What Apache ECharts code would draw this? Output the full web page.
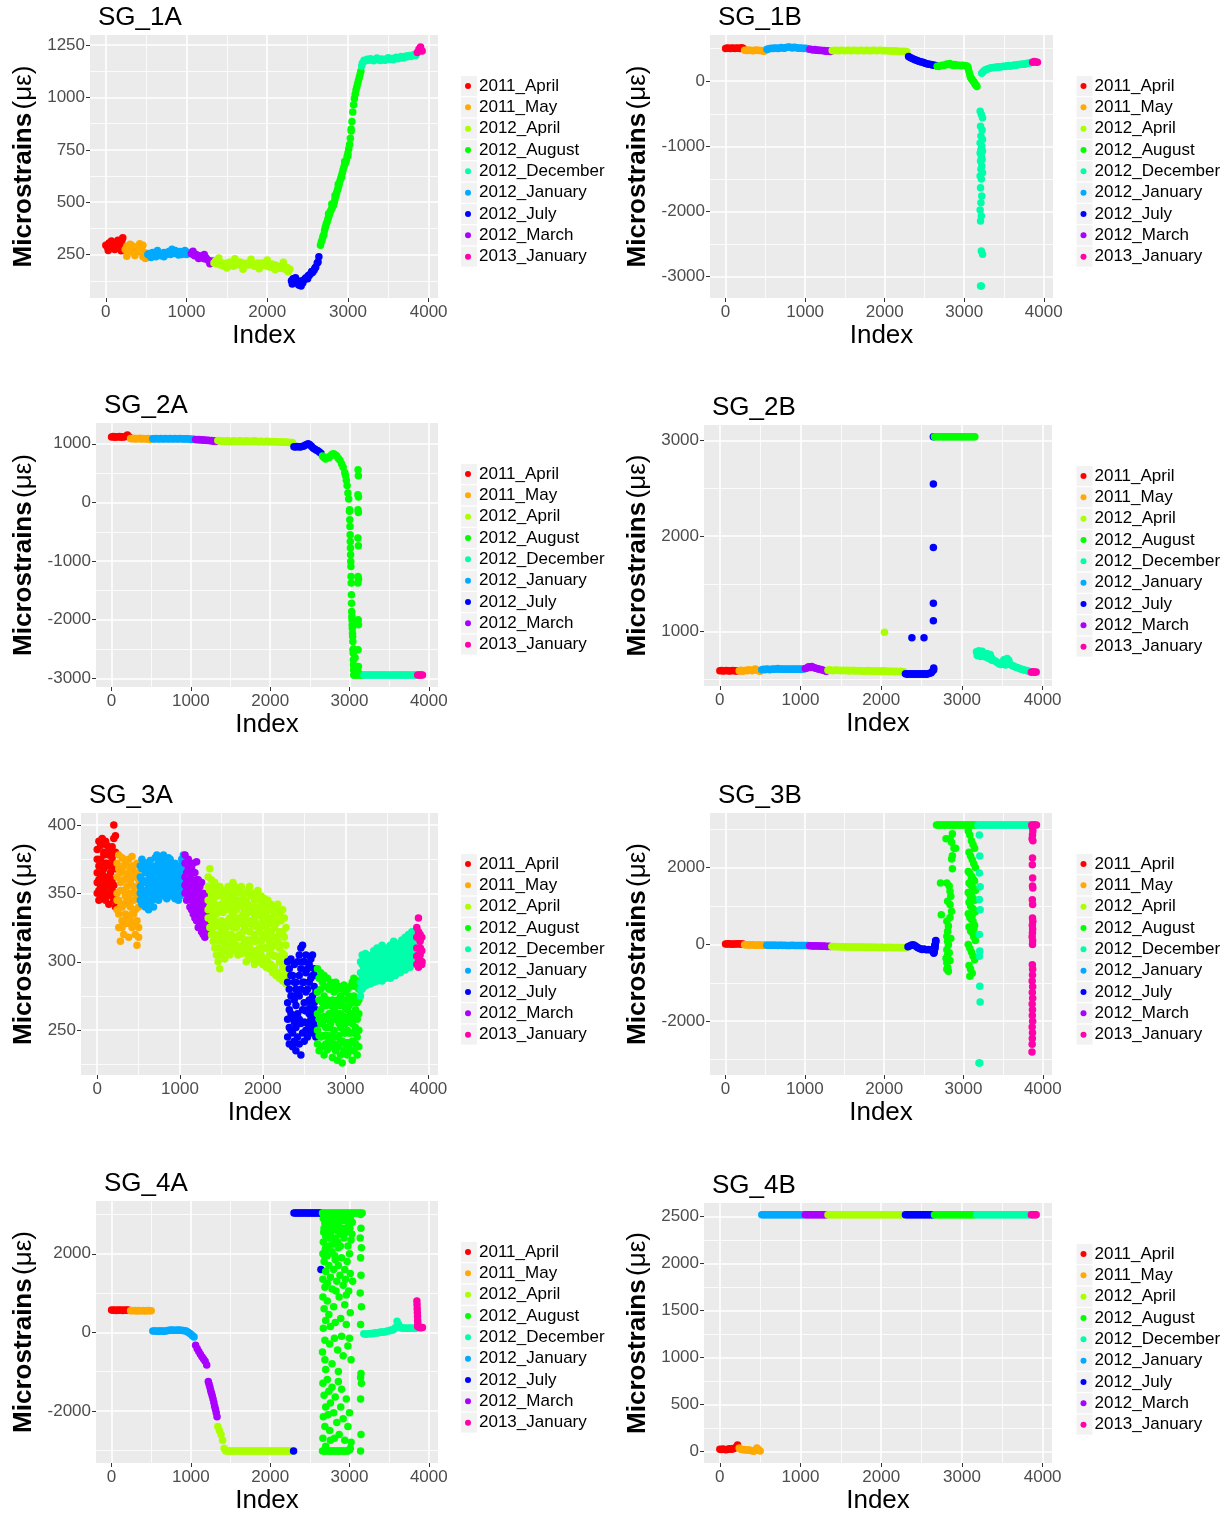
<!DOCTYPE html>
<html>
<head>
<meta charset="utf-8">
<script src="https://cdn.jsdelivr.net/npm/echarts@6/dist/echarts.min.js"></script>
<style>
  html, body { margin: 0; padding: 0; background: #ffffff; }
  #chart { width: 1231px; height: 1515px; }
</style>
</head>
<body>
<div id="chart"></div>
<script>
const FONT = '"Liberation Sans", Arial, Helvetica, sans-serif';

// Legend order (alphabetical factor levels) and their colours
const MONTHS = ['2011_April', '2011_May', '2012_April', '2012_August', '2012_December',
                '2012_January', '2012_July', '2012_March', '2013_January'];
const MONTH_COLORS = ['#FF0000', '#FFAA00', '#AAFF00', '#00FF00', '#00FFAA',
                      '#00AAFF', '#0000FF', '#AA00FF', '#FF00AA'];

// Recording campaigns in time order and the first Index of each one
const MONTH_ORDER = ['2011_April', '2011_May', '2012_January', '2012_March', '2012_April',
                     '2012_July', '2012_August', '2012_December', '2013_January'];
const MONTH_START = [0, 240, 505, 1045, 1335, 2285, 2655, 3165, 3845];

// Main traces hold one reading every INDEX_STEP samples, Index 0 .. 3920
const INDEX_STEP = 20;
const X_TICKS = [0, 1000, 2000, 3000, 4000];

// ---------------- SG_1A ----------------
const SG_1A = [
  295, 285, 305, 290, 300, 280, 295, 300, 285, 305, 320, 290,
  275, 290, 265, 280, 295, 260, 285, 270, 290, 265, 280, 295, 260, 250,
  250, 255, 245, 260, 250, 240, 255, 250, 245, 255, 260, 250, 255, 265, 250, 260, 255, 270, 260, 255, 265, 250, 260, 255, 250, 260, 255,
  255, 250, 245, 250, 240, 245, 235, 240, 230, 235, 225, 220, 215, 220,
  210, 220, 205, 215, 200, 210, 195, 205, 210, 200, 215, 205, 195, 210, 200, 205, 215, 200, 210, 195,
  205, 210, 200, 215, 205, 195, 200, 210, 205, 195, 210, 200, 205, 195, 200, 190, 205, 195, 200, 190,
  195, 185, 195, 190, 180, 190, 185, 180,
  125, 135, 120, 130, 118, 105, 100, 115, 130, 140, 135, 150, 160, 165, 175, 190, 210, 240,
  295, 320, 345, 380, 405, 430, 455, 470, 485, 515, 545, 570, 600, 625, 655, 680, 700, 735, 775, 840, 930, 995, 1035, 1065, 1095, 1125,
  1165, 1178, 1175, 1182, 1178, 1185, 1180, 1175, 1182, 1188, 1180, 1176, 1184, 1180, 1178, 1185, 1190, 1182, 1186, 1180,
  1188, 1192, 1185, 1190, 1195, 1188, 1192, 1198, 1194, 1200, 1196, 1202, 1205, 1200,
  1215, 1230, 1241, 1222
];
const SG_1A_EXTRA = [
  [30, 270], [70, 315], [110, 275], [150, 318], [190, 268], [210, 330],
  [260, 242], [300, 300], [360, 246], [420, 302], [460, 240], [490, 232],
  [560, 236], [640, 270], [720, 240], [820, 276], [900, 248], [980, 270],
  [1080, 266], [1150, 232], [1220, 250], [1290, 206],
  [1400, 234], [1500, 186], [1600, 230], [1700, 180], [1800, 228], [1900, 182], [2000, 224], [2100, 178], [2200, 214], [2260, 168],
  [2310, 110], [2350, 140], [2390, 105], [2430, 125], [2470, 135], [2510, 150], [2550, 170], [2590, 185], [2630, 215],
  [2670, 310], [2690, 335], [2710, 365], [2730, 395], [2750, 418], [2770, 443], [2790, 462], [2810, 478], [2830, 500],
  [2850, 530], [2870, 558], [2890, 585], [2910, 612], [2930, 640], [2950, 668], [2970, 690], [2990, 718],
  [2760, 445], [2800, 492], [2840, 532], [2880, 586], [2920, 618], [2960, 694], [3000, 722], [3040, 850],
  [3010, 755], [3030, 805], [3050, 885], [3070, 965], [3090, 1015], [3110, 1050], [3130, 1080], [3150, 1110], [3170, 1150]
];
const SG_1A_TICKS = [250, 500, 750, 1000, 1250];

// ---------------- SG_1B ----------------
const SG_1B = [
  500, 510, 505, 500, 510, 505, 500, 510, 505, 500, 512, 505,
  475, 470, 480, 470, 475, 465, 470, 480, 470, 475, 465, 470, 460, 465,
  490, 495, 500, 505, 500, 510, 505, 500, 510, 515, 510, 505, 515, 520, 525, 515, 510, 520, 515, 510, 505, 510, 505, 500, 505, 500, 495,
  490, 485, 480, 485, 475, 480, 470, 475, 465, 470, 460, 465, 460, 455,
  470, 465, 475, 470, 465, 470, 475, 470, 465, 470, 475, 470, 465, 470, 475, 470, 465, 470, 475, 470,
  465, 470, 475, 470, 465, 470, 475, 470, 465, 470, 475, 470, 465, 470, 465, 470, 465, 460, 465, 460,
  465, 460, 455, 460, 455, 460, 455, 450,
  380, 365, 350, 340, 330, 320, 310, 300, 295, 290, 280, 272, 265, 260, 255, 250, 245, 240,
  230, 225, 235, 245, 240, 250, 265, 255, 270, 250, 245, 255, 250, 240, 245, 235, 245, 240, 235, 230, 150, 60, 20, -10, -50, -80,
  null, null, 120, 150, 170, 180, 190, 200, 205, 210, 210, 215, 220, 215, 220, 225, 230, 225, 235, 240,
  230, 240, 245, 250, 245, 255, 255, 260, 265, 260, 270, 275, 280, 285,
  290, 300, 295, 290
];
const SG_1B_EXTRA = [
  [3050, 200], [3070, 100], [3090, 40], [3110, 5], [3130, -30], [3150, -65],
  [3200, -460], [3215, -511], [3230, -560], [3205, -690], [3225, -750], [3210, -843], [3230, -894], [3200, -950],
  [3220, -996], [3210, -1050], [3230, -1073], [3200, -1100], [3215, -1150], [3225, -1200], [3205, -1226], [3220, -1303],
  [3210, -1350], [3230, -1405], [3200, -1456], [3215, -1500], [3205, -1635], [3220, -1763], [3210, -1865], [3200, -1977],
  [3215, -2070], [3205, -2146], [3215, -2606], [3230, -2657], [3205, -3143], [3215, -3143]
];
const SG_1B_TICKS = [-3000, -2000, -1000, 0];

// ---------------- SG_2A ----------------
const SG_2A = [
  1115, 1125, 1110, 1120, 1115, 1125, 1110, 1120, 1115, 1130, 1150, 1120,
  1090, 1085, 1095, 1080, 1090, 1085, 1095, 1080, 1090, 1085, 1080, 1090, 1075, 1085,
  1085, 1080, 1090, 1085, 1080, 1090, 1085, 1080, 1090, 1085, 1080, 1090, 1085, 1080, 1090, 1085, 1080, 1090, 1085, 1080,
  1085, 1080, 1085, 1080, 1075, 1080, 1075,
  1075, 1070, 1075, 1065, 1070, 1060, 1065, 1055, 1060, 1050, 1055, 1045, 1050, 1045,
  1055, 1050, 1045, 1050, 1040, 1045, 1050, 1040, 1045, 1040, 1050, 1045, 1040, 1045, 1050, 1040, 1045, 1040, 1050, 1045,
  1040, 1045, 1040, 1050, 1045, 1040, 1035, 1045, 1040, 1035, 1040, 1045, 1035, 1040, 1035, 1040, 1030, 1035, 1030, 1035,
  1025, 1030, 1025, 1030, 1020, 1025, 1015, 1020,
  950, 945, 955, 950, 945, 955, 960, 975, 990, 1000, 985, 960, 930, 910, 895, 880, 860, 840,
  790, 760, 740, 770, 760, 790, 820, 830, 815, 790, 750, 720, 660, 600, 510, 380, 160, -150, null, null,
  -2943, -2943, -2943, -2943, -2943, -2943,
  -2943, -2943, -2943, -2943, -2943, -2943, -2943, -2943, -2943, -2943, -2943, -2943, -2943, -2943, -2943, -2943, -2943,
  -2943, -2943, -2943, -2943, -2943, -2943, -2943, -2943, -2943, -2943, -2943, -2943, -2943, -2943, -2943, -2943, -2943,
  -2943, -2943, -2943, -2943
];
const SG_2A_EXTRA = [
  [2950, 460], [2970, 290], [2990, 60],
  [3002, -124], [3004, -295], [3006, -409], [3008, -551], [3010, -665], [3012, -779], [3014, -892], [3016, -1006],
  [3018, -1092], [3020, -1262], [3022, -1376], [3024, -1575], [3026, -1718], [3028, -1860], [3030, -1945], [3032, -2002],
  [3034, -2087], [3036, -2144], [3038, -2230], [3040, -2287], [3042, -2372], [3044, -2514], [3046, -2571], [3048, -2685],
  [3050, -2770], [3052, -2856], [3054, -2941],
  [3040, -2050], [3050, -2500], [3060, -2800], [3070, -2650],
  [3108, 558], [3112, 456], [3106, 132], [3114, 92], [3108, -124], [3112, -170], [3106, -608], [3112, -739],
  [3108, -1262], [3114, -1308], [3106, -1376], [3110, -2002], [3114, -2087], [3108, -2514], [3112, -2799], [3106, -2884]
];
const SG_2A_TICKS = [-3000, -2000, -1000, 0, 1000];

// ---------------- SG_2B ----------------
const SG_2B = [
  590, 592, 588, 590, 592, 590, 588, 590, 592, 590, 588, 590,
  590, 595, 585, 590, 595, 590, 600, 595, 590, 600, 610, 595, 590, 585,
  600, 605, 600, 610, 605, 600, 605, 610, 605, 610, 615, 605, 610, 605, 610, 605, 610, 605, 610, 605,
  610, 605, 610, 605, 610, 605, 610,
  615, 620, 632, 625, 635, 625, 620, 615, 610, 605, 600, 595, 590, 585,
  595, 600, 595, 590, 595, 598, 592, 595, 590, 595, 592, 590, 595, 588, 592, 590, 595, 588, 590, 592,
  588, 590, 585, 590, 588, 592, 585, 590, 588, 585, 590, 586, 588, 585, 590, 584, 588, 585, 582, 586,
  584, 580, 585, 582, 580, 584, 578, 580,
  560, 555, 560, 555, 560, 555, 560, 555, 560, 555, 560, 555, 560, 555, 560, 565, 570, 590,
  3040, 3040, 3040, 3040, 3040, 3040, 3040, 3040, 3040, 3040, 3040, 3040, 3040,
  3040, 3040, 3040, 3040, 3040, 3040, 3040, 3040, 3040, 3040, 3040, 3040, 3040,
  790, 780, 770, 780, 760, 750, 745, 740, 745, 735, 710, 695, 690, 675, 665, 655, 680, 690, 670, 700,
  690, 655, 645, 640, 630, 625, 620, 612, 605, 600, 597, 592, 588, 582,
  575, 580, 575, 578
];
const SG_2B_EXTRA = [
  [2040, 993],
  [2380, 937], [2530, 937], [2646, 3040], [2646, 2546], [2646, 1880], [2646, 1297], [2646, 1115], [2650, 620], [2650, 600],
  [3190, 750], [3210, 800], [3230, 740], [3250, 795], [3270, 770], [3290, 735], [3310, 770], [3330, 720], [3350, 760],
  [3370, 700], [3520, 705], [3540, 650], [3560, 720], [3580, 700]
];
const SG_2B_TICKS = [1000, 2000, 3000];

// ---------------- SG_3A (five runs through a noisy band, top to bottom) ----------------
const SG_3A_UPPER = [
  382, 388, 375, 390, 380, 372, 385, 378, 370, 384, 400, 392,
  372, 378, 365, 376, 370, 374, 362, 375, 368, 377, 370, 365, 372, 360,
  370, 375, 368, 372, 365, 370, 374, 362, 368, 376, 378, 372, 370, 375, 378, 368, 372, 376, 365, 370,
  368, 372, 360, 366, 370, 375, 378,
  378, 372, 375, 370, 368, 372, 365, 373, 360, 355, 358, 350, 345, 348,
  362, 368, 360, 355, 358, 352, 350, 355, 348, 352, 345, 350, 355, 348, 352, 358, 355, 350, 345, 352,
  355, 348, 350, 345, 352, 355, 348, 350, 345, 350, 352, 345, 348, 342, 346, 340, 345, 338, 342, 340,
  335, 338, 342, 335, 330, 338, 332, 325,
  300, 295, 302, 290, 298, 285, 300, 305, 310, 312, 300, 305, 295, 298, 302, 305, 295, 290,
  295, 288, 292, 285, 290, 282, 288, 280, 285, 282, 278, 285, 280, 282, 275, 280, 283, 278, 280, 275,
  282, 285, 288, 282, 286, 280,
  300, 305, 302, 306, 300, 304, 302, 305, 308, 306, 310, 305, 308, 312, 306, 310, 304, 308, 312, 310,
  315, 308, 312, 310, 314, 316, 312, 318, 315, 320, 316, 322, 318, 322,
  325, 332, 320, 318
];
const SG_3A_UPPER_MID = [
  375, 370, 385, 365, 378, 388, 372, 380, 360, 376, 390, 380,
  362, 368, 352, 366, 360, 372, 348, 365, 358, 370, 362, 350, 365, 355,
  362, 368, 358, 365, 372, 360, 368, 356, 365, 370, 368, 365, 372, 366, 374, 362, 368, 370, 375, 365,
  362, 368, 370, 360, 365, 368, 372,
  372, 365, 368, 362, 360, 365, 358, 360, 352, 348, 346, 344, 338, 340,
  355, 352, 348, 345, 342, 348, 340, 338, 342, 336, 338, 340, 344, 338, 342, 346, 342, 338, 340, 344,
  342, 340, 338, 335, 342, 338, 340, 336, 332, 340, 336, 334, 338, 330, 332, 335, 330, 328, 332, 330,
  325, 328, 330, 322, 320, 322, 318, 312,
  285, 280, 290, 275, 285, 280, 278, 290, 295, 300, 285, 292, 280, 285, 288, 290, 282, 278,
  278, 272, 280, 270, 275, 268, 272, 270, 268, 272, 265, 270, 272, 268, 262, 268, 272, 266, 265, 268,
  272, 270, 275, 272, 270, 272,
  292, 298, 295, 300, 298, 296, 298, 300, 300, 302, 304, 300, 302, 306, 300, 304, 300, 304, 306, 304,
  308, 306, 306, 308, 310, 308, 308, 312, 310, 313, 312, 314, 315, 315,
  318, 322, 310, 308
];
const SG_3A_MIDDLE = [
  365, 360, 370, 355, 368, 362, 358, 370, 365, 360, 372, 368,
  350, 345, 358, 340, 352, 348, 355, 342, 350, 345, 355, 338, 348, 340,
  355, 360, 352, 358, 348, 355, 362, 350, 358, 352, 360, 356, 362, 358, 365, 360, 355, 362, 368, 360,
  355, 362, 358, 352, 360, 356, 362,
  362, 358, 360, 355, 352, 355, 348, 345, 342, 340, 335, 338, 332, 335,
  345, 340, 338, 335, 330, 335, 328, 325, 330, 322, 328, 325, 330, 332, 328, 335, 330, 325, 332, 328,
  330, 335, 325, 330, 328, 322, 330, 326, 320, 328, 325, 322, 326, 320, 318, 325, 320, 315, 322, 318,
  312, 318, 315, 310, 312, 306, 305, 300,
  270, 265, 275, 260, 272, 268, 262, 275, 280, 285, 270, 278, 265, 272, 268, 275, 270, 265,
  262, 258, 265, 255, 260, 252, 258, 262, 255, 260, 250, 258, 262, 255, 252, 258, 260, 255, 250, 258,
  262, 255, 260, 265, 258, 262,
  285, 290, 288, 292, 295, 290, 293, 295, 292, 296, 298, 294, 296, 300, 296, 298, 295, 300, 302, 298,
  300, 303, 300, 302, 305, 302, 304, 306, 303, 306, 308, 305, 310, 308,
  310, 305, 315, 300
];
const SG_3A_LOWER_MID = [
  358, 352, 362, 350, 360, 355, 348, 362, 358, 352, 356, 350,
  345, 335, 340, 325, 342, 330, 345, 332, 340, 335, 345, 328, 330, 318,
  350, 352, 345, 350, 342, 348, 352, 345, 350, 348, 355, 350, 355, 356, 352, 355, 350, 356, 360, 355,
  358, 352, 355, 348, 355, 352, 358,
  356, 352, 354, 348, 345, 345, 340, 338, 334, 334, 328, 330, 325, 328,
  338, 332, 330, 325, 320, 320, 315, 310, 318, 315, 315, 318, 320, 318, 320, 325, 318, 318, 318, 320,
  318, 322, 316, 315, 316, 315, 316, 315, 308, 315, 316, 310, 315, 310, 310, 310, 310, 305, 310, 305,
  304, 304, 304, 300, 300, 296, 296, 292,
  258, 252, 262, 248, 256, 252, 255, 258, 255, 265, 256, 264, 255, 262, 258, 265, 260, 255,
  250, 246, 255, 246, 246, 246, 246, 252, 246, 245, 245, 246, 245, 246, 242, 242, 248, 248, 241, 248,
  248, 242, 248, 252, 245, 250,
  280, 285, 285, 288, 289, 288, 288, 291, 288, 292, 292, 292, 292, 293, 293, 293, 294, 295, 295, 295,
  298, 296, 296, 299, 297, 298, 301, 300, 300, 303, 302, 302, 306, 304,
  304, 300, 310, 298
];
const SG_3A_LOWER = [
  350, 345, 355, 348, 352, 345, 350, 342, 355, 348, 345, 340,
  338, 325, 315, 330, 320, 335, 328, 318, 330, 325, 335, 320, 312, 325,
  345, 342, 348, 340, 345, 338, 342, 348, 340, 346, 350, 345, 348, 352, 348, 350, 346, 350, 355, 348,
  352, 346, 350, 345, 348, 352, 355,
  350, 345, 348, 340, 338, 335, 332, 330, 325, 328, 322, 320, 318, 322,
  332, 325, 320, 315, 310, 305, 300, 295, 305, 310, 302, 308, 312, 305, 310, 315, 308, 312, 305, 310,
  306, 312, 308, 300, 305, 310, 302, 305, 298, 303, 308, 300, 305, 298, 302, 296, 300, 295, 298, 292,
  296, 290, 292, 288, 290, 286, 288, 284,
  245, 240, 250, 238, 242, 235, 245, 240, 232, 248, 242, 250, 245, 252, 248, 255, 250, 245,
  240, 235, 245, 238, 232, 240, 236, 242, 238, 230, 240, 235, 228, 238, 232, 226, 235, 240, 232, 238,
  235, 228, 235, 240, 232, 238,
  275, 280, 282, 285, 283, 286, 284, 288, 285, 288, 286, 290, 288, 286, 290, 288, 292, 290, 288, 292,
  295, 290, 293, 296, 292, 295, 298, 294, 297, 300, 296, 300, 302, 300,
  298, 296, 305, 300
];
const SG_3A_EXTRA = [];
const SG_3A_TICKS = [250, 300, 350, 400];

// ---------------- SG_3B ----------------
const SG_3B = [
  12, 8, 15, 10, 5, 12, 8, 10, 14, 9, 11, 8,
  -10, -12, -15, -10, -18, -12, -15, -20, -14, -16, -18, -20, -15, -18,
  -20, -22, -25, -20, -24, -22, -25, -28, -24, -22, -26, -25, -28, -26, -30, -28, -25, -28, -30, -26,
  -28, -30, -32, -28, -30, -32, -30,
  -35, -38, -40, -42, -38, -40, -45, -42, -48, -45, -50, -52, -50, -55,
  -55, -58, -60, -58, -62, -60, -64, -62, -65, -63, -66, -65, -68, -66, -70, -68, -66, -70, -72, -70,
  -68, -72, -74, -72, -70, -74, -76, -74, -72, -76, -78, -76, -74, -78, -80, -78, -76, -80, -82, -80,
  -78, -82, -84, -82, -85, -84, -86, -85,
  -60, -40, -20, -10, -20, -50, -80, -100, -120, -130, -120, -130, -140, -130, -140, -150, -130, -100,
  3110, 3110, 3110, 3110, 3110, 3110, 3110, 3110, 3110, 3110, 3110, 3110, 3110,
  3110, 3110, 3110, 3110, 3110, 3110, 3110, 3110, 3110, 3110, 3110, 3110, 3110,
  3110, 3110, 3110, 3110, 3110, 3110, 3110, 3110, 3110, 3110, 3110, 3110, 3110, 3110, 3110, 3110, 3110,
  3110, 3110, 3110, 3110, 3110, 3110, 3110, 3110, 3110, 3110, 3110, 3110, 3110, 3110, 3110, 3110, 3110,
  3110, 3110, 3110, 3110
];
const SG_3B_EXTRA = [
  [2625, -230], [2628, -210], [2630, -180], [2635, -120], [2638, -20], [2640, -60], [2645, 0], [2648, 90], [2650, 60], [2652, 100],
  [2860, 2880], [2830, 2750], [2780, 2750], [2850, 2660], [2880, 2500], [2900, 2500], [2860, 2310], [2850, 2220], [2860, 1970],
  [2710, 1600], [2790, 1600], [2820, 1520], [2830, 1380], [2840, 1250], [2800, 1120], [2830, 1040], [2850, 860],
  [2720, 770], [2830, 700], [2790, 600], [2810, 480], [2800, 340], [2790, 210], [2840, 150], [2800, 80], [2810, -10],
  [2790, -140], [2820, -220], [2800, -270], [2780, -360], [2830, -420], [2790, -480], [2800, -600], [2790, -650], [2810, -700],
  [3060, 2950], [3080, 2850], [3100, 2700], [3120, 2600], [3140, 2500], [3070, 2400], [3090, 2300], [3110, 2200],
  [3130, 2100], [3150, 2000], [3060, 1900], [3080, 1850], [3100, 1780], [3120, 1700], [3140, 1650], [3070, 1600],
  [3090, 1550], [3110, 1500], [3130, 1450], [3150, 1400], [3060, 1350], [3080, 1300], [3100, 1250], [3120, 1200],
  [3140, 1150], [3070, 1100], [3090, 1000], [3110, 950], [3130, 900], [3150, 850], [3060, 800], [3080, 700],
  [3100, 650], [3120, 600], [3140, 500], [3070, 450], [3090, 350], [3110, 300], [3130, 200], [3150, 100],
  [3060, 0], [3080, -100], [3100, -200], [3120, -300], [3140, -400], [3070, -550], [3090, -650], [3110, -750],
  [3080, -830], [3100, 1700], [3120, 1400], [3090, 1200], [3110, 750], [3130, 400],
  [3200, 2850], [3205, 2300], [3200, 1860], [3210, 1500], [3200, 1170], [3210, 900], [3200, 260], [3205, -170],
  [3200, -310], [3205, -1090], [3210, -1500], [3195, -3090], [3205, -3090],
  [3870, 3050], [3875, 2950], [3870, 2850], [3865, 2750], [3875, 2700], [3870, 2250], [3868, 2070], [3872, 1730],
  [3870, 1520], [3874, 1470], [3868, 1160], [3872, 1040], [3870, 690], [3874, 600], [3868, 500], [3872, 400],
  [3870, 300], [3866, 200], [3872, 100], [3870, 0], [3868, -530], [3872, -650], [3870, -800], [3866, -950],
  [3872, -1100], [3868, -1250], [3872, -1400], [3866, -1550], [3870, -1700], [3868, -1850], [3872, -2000],
  [3866, -2150], [3870, -2300], [3868, -2450], [3866, -2600], [3864, -2800]
];
const SG_3B_TICKS = [-2000, 0, 2000];

// ---------------- SG_4A ----------------
const SG_4A = [
  565, 560, 570, 555, 565, 560, 568, 558, 565, 560, 570, 562,
  550, 555, 548, 552, 545, 555, 550, 548, 552, 545, 550, 555, 548, 550,
  30, 35, 30, 25, 30, 35, 30, 25, 30, 40, 50, 55, 60, 55, 50, 55, 60, 55, 50, 45,
  40, 30, 10, -20, -50, -90, -120,
  -330, -420, -490, -560, -620, -680, -740, -830, -1250, -1400, -1550, -1700, -1880, -2050,
  -2400, -2500, -2600, -2750, -2950,
  -3025, -3025, -3025, -3025, -3025, -3025, -3025, -3025, -3025, -3025,
  -3025, -3025, -3025, -3025, -3025, -3025, -3025, -3025, -3025, -3025,
  -3025, -3025, -3025, -3025, -3025, -3025, -3025, -3025, -3025, -3025,
  -3025, -3025, -3025, -3025, -3025, -3025, -3025, -3025, -3025, -3025,
  -3025, -3025, -3025,
  3040, 3040, 3040, 3040, 3040, 3040, 3040, 3040, 3040, 3040, 3040, 3040, 3040, 3040, 3040, 3040, 3040, 3040,
  3040, 3040, 3040, 3040, 3040, 3040, 3040, 3040, 3040, 3040, 3040, 3040, 3040,
  3040, 3040, 3040, 3040, 3040, 3040, 3040, 3040, 3040, 3040, 3040, 3040, 3040,
  -40, -50, -45, -40, -30, -35, -25, -20, -10, -15, 0, 5, 0, 10, 20, 30, 40, 60, 50, 80,
  120, 280, 200, 120, 110, 100, 110, 100, 105, 110, 100, 105, 110, 100,
  150, 120, 115, 120
];
const SG_4A_EXTRA = [
  [1230, -1320], [1250, -1480], [1270, -1620], [1290, -1790], [1310, -1960], [1330, -2150],
  [2295, -3025], [2640, 1597],
  [2670, 2900], [2680, 2650], [2690, 2780], [2700, 2450], [2670, 2300], [2710, 2950], [2730, 2600], [2750, 2850],
  [2760, 2500], [2740, 2200], [2790, 2950], [2800, 2700], [2820, 2400], [2810, 2850], [2840, 2600], [2850, 2300],
  [2870, 2800], [2880, 2500], [2900, 2950], [2910, 2650], [2930, 2400], [2950, 2850], [2960, 2550], [2980, 2200],
  [2990, 2750], [3010, 2900], [3030, 2500], [3020, 2350], [2700, 2150], [2860, 2150],
  [2675, 2550], [2695, 2100], [2725, 2750], [2745, 2400], [2775, 2650], [2795, 2250], [2835, 2950], [2855, 2700],
  [2885, 2200], [2915, 2850], [2945, 2650], [2975, 2900], [3005, 2650], [3035, 2800], [2685, 1950], [2815, 1950],
  [2665, 2000], [2680, 1800], [2700, 1550], [2665, 1350], [2690, 1150], [2720, 1950], [2740, 1700], [2760, 1400],
  [2720, 1250], [2780, 2050], [2800, 1600], [2820, 1850], [2840, 1300], [2860, 1700], [2880, 1450], [2900, 1900],
  [2920, 1200], [2940, 1600], [2950, 1350], [2970, 1800], [2990, 1050], [3010, 1500], [3000, 2000], [2780, 1100],
  [2830, 1050], [2960, 950], [3040, 1300],
  [2665, 900], [2680, 600], [2700, 300], [2670, 100], [2690, -200], [2660, -500], [2720, 800], [2740, 450],
  [2760, 150], [2750, -300], [2780, -800], [2800, 650], [2820, 250], [2810, -150], [2850, -450], [2870, 900],
  [2890, 350], [2900, -100], [2920, -600], [2940, 700], [2960, 200], [2980, -350], [3000, -150], [3010, 500],
  [3020, -700], [2700, -950], [2860, -1000], [2690, -700],
  [2665, -1300], [2680, -1600], [2700, -1900], [2670, -2150], [2690, -2400], [2665, -2700], [2720, -1200], [2740, -1500],
  [2760, -1800], [2730, -2100], [2750, -2500], [2780, -1400], [2800, -2050], [2820, -1650], [2840, -2300], [2860, -1250],
  [2870, -2600], [2890, -1900], [2900, -1450], [2920, -2200], [2940, -2750], [2960, -1700], [2980, -2400], [3000, -2050],
  [3020, -2800], [2810, -2700], [2700, -2900], [2760, -2750],
  [2660, -3025], [2680, -3025], [2700, -3025], [2720, -3025], [2740, -3025], [2760, -3025], [2780, -3025], [2800, -3025],
  [2820, -3025], [2840, -3025], [2860, -3025], [2880, -3025], [2900, -3025], [2920, -3025], [2940, -3025], [2960, -3025],
  [2980, -3025], [3000, -3000], [3010, -2950],
  [3140, 3000], [3145, 2650], [3135, 2400], [3150, 2150], [3140, 1900], [3145, 1450], [3135, 1000], [3150, 650],
  [3140, 200], [3145, -1050], [3140, -1150], [3150, -1300], [3140, -1700], [3145, -2600], [3140, -3025],
  [3850, 800], [3852, 700], [3854, 600], [3856, 500], [3858, 400], [3860, 300], [3862, 220]
];
const SG_4A_TICKS = [-2000, 0, 2000];

// ---------------- SG_4B ----------------
const SG_4B = [
  25, 22, 28, 24, 20, 26, 30, 25, 28, 35, 45, 70,
  40, 25, 20, 22, 18, 15, 20, 12, 10, 5, 15, 40, 20, 8,
  2520, 2520, 2520, 2520, 2520, 2520, 2520, 2520, 2520, 2520, 2520, 2520, 2520, 2520,
  2520, 2520, 2520, 2520, 2520, 2520, 2520, 2520, 2520, 2520, 2520, 2520, 2520,
  2520, 2520, 2520, 2520, 2520, 2520, 2520, 2520, 2520, 2520, 2520, 2520, 2520, 2520,
  2520, 2520, 2520, 2520, 2520, 2520, 2520, 2520, 2520, 2520, 2520, 2520, 2520, 2520, 2520, 2520,
  2520, 2520, 2520, 2520, 2520, 2520, 2520, 2520, 2520, 2520, 2520, 2520, 2520, 2520, 2520, 2520,
  2520, 2520, 2520, 2520, 2520, 2520, 2520, 2520, 2520, 2520, 2520, 2520, 2520, 2520, 2520, 2520,
  2520, 2520, 2520, 2520, 2520, 2520, 2520, 2520, 2520, 2520, 2520, 2520, 2520, 2520, 2520, 2520, 2520, 2520,
  2520, 2520, 2520, 2520, 2520, 2520, 2520, 2520, 2520, 2520, 2520, 2520, 2520,
  2520, 2520, 2520, 2520, 2520, 2520, 2520, 2520, 2520, 2520, 2520, 2520, 2520,
  2520, 2520, 2520, 2520, 2520, 2520, 2520, 2520, 2520, 2520, 2520, 2520, 2520, 2520, 2520, 2520, 2520,
  2520, 2520, 2520, 2520, 2520, 2520, 2520, 2520, 2520, 2520, 2520, 2520, 2520, 2520, 2520, 2520, 2520,
  2520, 2520, 2520, 2520
];
const SG_4B_EXTRA = [];
const SG_4B_TICKS = [0, 500, 1000, 1500, 2000, 2500];

const PANELS = [
  { name: 'SG_1A', traces: [SG_1A], extra: SG_1A_EXTRA, ticks: SG_1A_TICKS },
  { name: 'SG_1B', traces: [SG_1B], extra: SG_1B_EXTRA, ticks: SG_1B_TICKS },
  { name: 'SG_2A', traces: [SG_2A], extra: SG_2A_EXTRA, ticks: SG_2A_TICKS },
  { name: 'SG_2B', traces: [SG_2B], extra: SG_2B_EXTRA, ticks: SG_2B_TICKS },
  { name: 'SG_3A', traces: [SG_3A_UPPER, SG_3A_UPPER_MID, SG_3A_MIDDLE, SG_3A_LOWER_MID, SG_3A_LOWER],
    extra: SG_3A_EXTRA, ticks: SG_3A_TICKS },
  { name: 'SG_3B', traces: [SG_3B], extra: SG_3B_EXTRA, ticks: SG_3B_TICKS },
  { name: 'SG_4A', traces: [SG_4A], extra: SG_4A_EXTRA, ticks: SG_4A_TICKS },
  { name: 'SG_4B', traces: [SG_4B], extra: SG_4B_EXTRA, ticks: SG_4B_TICKS }
];

// Plot-panel boxes in pixels: [left, top, width, height]
const BOXES = [
  [90, 35, 348, 263], [710, 35, 343, 263],
  [96, 423, 342, 264], [704, 425, 348, 261],
  [81, 813, 357, 262], [710, 813, 342, 262],
  [96, 1201, 342, 263], [704, 1203, 348, 261]
];

function monthOf(idx) {
  let m = 0;
  for (let i = 0; i < MONTH_START.length; i++) if (idx >= MONTH_START[i]) m = i;
  return MONTH_ORDER[m];
}
// ggplot-style 5% padding on both ends of the data range
function expand(lo, hi) {
  const d = (hi - lo) * 0.05;
  return [lo - d, hi + d];
}
// minor grid lines sit half-way between the major breaks
function minorBreaks(major, lo, hi) {
  const step = major[1] - major[0];
  const out = [];
  for (let v = major[0] - step / 2; v <= major[major.length - 1] + step / 2 + 1e-9; v += step) {
    if (v >= lo && v <= hi) out.push(v);
  }
  return out;
}

const option = {
  animation: false,
  backgroundColor: '#ffffff',
  title: [], grid: [], xAxis: [], yAxis: [], legend: [], series: [], graphic: []
};

const fmt = v => String(v);
const tickStyle = { show: true, length: 4, lineStyle: { color: '#333333', width: 1 } };
const labelStyle = { color: '#4D4D4D', fontSize: 17, fontFamily: FONT };
const noLine = { show: false, onZero: false };

PANELS.forEach((p, i) => {
  const [L, T, W, H] = BOXES[i];
  const leftCol = L < 600;

  const buckets = {};
  MONTH_ORDER.forEach(m => { buckets[m] = []; });
  p.traces.forEach(tr => tr.forEach((v, k) => {
    if (v === null || v === undefined) return;
    const idx = k * INDEX_STEP;
    buckets[monthOf(idx)].push([idx, v]);
  }));
  p.extra.forEach(([idx, v]) => buckets[monthOf(idx)].push([idx, v]));

  let xMin = Infinity, xMax = -Infinity, yMin = Infinity, yMax = -Infinity;
  MONTH_ORDER.forEach(m => buckets[m].forEach(([x, y]) => {
    xMin = Math.min(xMin, x); xMax = Math.max(xMax, x);
    yMin = Math.min(yMin, y); yMax = Math.max(yMax, y);
  }));
  const xr = expand(xMin, xMax);
  const yr = expand(yMin, yMax);

  option.grid.push({
    left: L, top: T, width: W, height: H,
    show: true, backgroundColor: '#EBEBEB', borderWidth: 0, containLabel: false
  });

  // minor grid axes (index 2i), major axes carrying data (index 2i+1)
  const xMinor = minorBreaks(X_TICKS, xr[0], xr[1]);
  const yMinor = minorBreaks(p.ticks, yr[0], yr[1]);
  option.xAxis.push({
    type: 'value', gridIndex: i, min: xr[0], max: xr[1], position: 'top',
    axisLine: noLine, axisTick: { show: false, customValues: xMinor },
    axisLabel: { show: false, customValues: xMinor },
    splitLine: { show: true, lineStyle: { color: '#ffffff', width: 0.8 } }
  });
  option.xAxis.push({
    type: 'value', gridIndex: i, min: xr[0], max: xr[1], position: 'bottom',
    axisLine: noLine,
    axisTick: Object.assign({ customValues: X_TICKS }, tickStyle),
    axisLabel: Object.assign({ customValues: X_TICKS, formatter: fmt, margin: 6 }, labelStyle),
    splitLine: { show: true, lineStyle: { color: '#ffffff', width: 1.6 } },
    name: 'Index', nameLocation: 'middle', nameGap: 25,
    nameTextStyle: { fontSize: 26, color: '#000000', fontFamily: FONT }
  });
  option.yAxis.push({
    type: 'value', gridIndex: i, min: yr[0], max: yr[1], position: 'right',
    axisLine: noLine, axisTick: { show: false, customValues: yMinor },
    axisLabel: { show: false, customValues: yMinor },
    splitLine: { show: true, lineStyle: { color: '#ffffff', width: 0.8 } }
  });
  option.yAxis.push({
    type: 'value', gridIndex: i, min: yr[0], max: yr[1], position: 'left',
    axisLine: noLine,
    axisTick: Object.assign({ customValues: p.ticks }, tickStyle),
    axisLabel: Object.assign({ customValues: p.ticks, formatter: fmt, margin: 5 }, labelStyle),
    splitLine: { show: true, lineStyle: { color: '#ffffff', width: 1.6 } },
    name: '{b|Microstrains} {n|(με)}', nameLocation: 'middle', nameRotate: 90,
    nameGap: L - (leftCol ? 37 : 651),
    nameTextStyle: {
      color: '#000000', fontFamily: FONT,
      rich: {
        b: { fontSize: 26, fontWeight: 'bold', fontFamily: FONT, color: '#000000' },
        n: { fontSize: 26, fontWeight: 'normal', fontFamily: FONT, color: '#000000' }
      }
    }
  });

  option.title.push({
    text: p.name, left: L + 8, top: T - 30, padding: 0,
    textStyle: { fontSize: 26, fontWeight: 'normal', color: '#000000', fontFamily: FONT }
  });

  const keyCenterX = leftCol ? 469 : 1084.5;
  const firstRow = T + 51;
  const rowPitch = 21.33;
  option.legend.push({
    data: MONTHS, orient: 'vertical', left: keyCenterX - 4, top: firstRow - 10.5,
    padding: 0, itemGap: 0.33, itemWidth: 12, itemHeight: 6, icon: 'circle',
    selectedMode: false, z: 10,
    textStyle: { fontSize: 17, lineHeight: 21, color: '#000000', fontFamily: FONT }
  });
  MONTHS.forEach((m, j) => {
    option.graphic.push({
      type: 'rect', silent: true, z: 1,
      shape: { x: keyCenterX - 8, y: firstRow + j * rowPitch - 10, width: 16, height: 20 },
      style: { fill: '#F2F2F2' }
    });
  });

  MONTH_ORDER.forEach(m => {
    option.series.push({
      type: 'scatter', name: m, xAxisIndex: 2 * i + 1, yAxisIndex: 2 * i + 1,
      data: buckets[m], symbol: 'circle', symbolSize: 7.5,
      itemStyle: { color: MONTH_COLORS[MONTHS.indexOf(m)], opacity: 1 },
      emphasis: { disabled: true }, silent: true
    });
  });
});

const chart = echarts.init(document.getElementById('chart'), null, { renderer: 'canvas' });
chart.setOption(option);
</script>
</body>
</html>
